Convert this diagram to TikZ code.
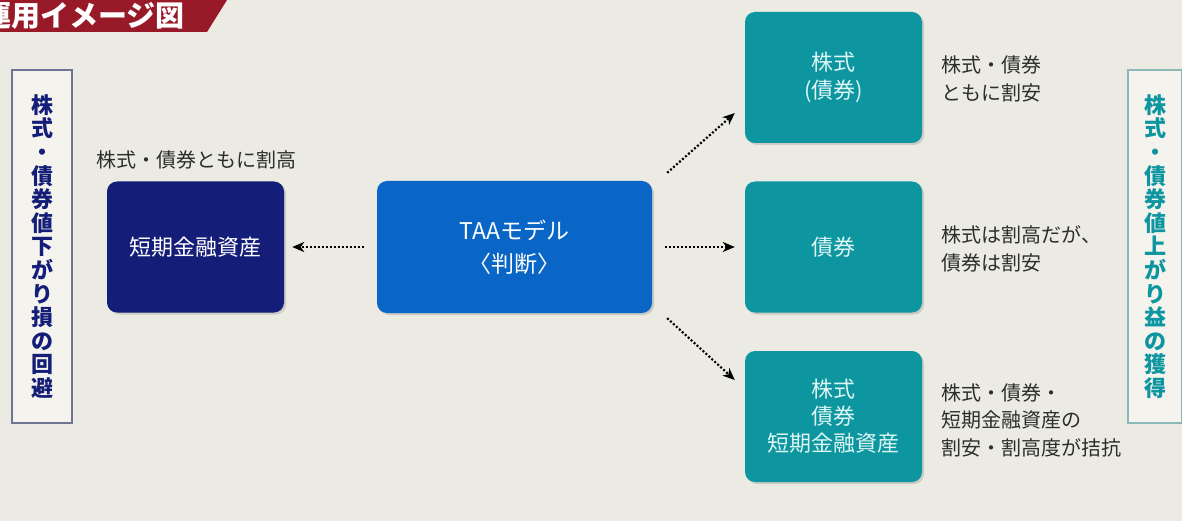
\documentclass[tikz,border=0pt]{standalone}
\usepackage{fontspec}
\setmainfont{Noto Sans CJK JP}
\usetikzlibrary{arrows.meta,shadows}
\definecolor{haikei}{RGB}{236,235,227}
\definecolor{obi}{RGB}{152,26,40}
\definecolor{kon}{RGB}{20,30,120}
\definecolor{ao}{RGB}{10,102,198}
\definecolor{midori}{RGB}{14,150,160}
\definecolor{usumidori}{RGB}{220,246,244}
\definecolor{moji}{RGB}{45,45,45}
\definecolor{hidari}{RGB}{110,116,148}
\definecolor{migi}{RGB}{140,184,184}
\definecolor{yoko}{RGB}{244,243,237}
\begin{document}
\begin{tikzpicture}[x=1pt,y=-1pt,
	box/.style={rounded corners=10pt, minimum width=177pt, minimum height=131pt, inner sep=0pt, align=center, font=\fontsize{22}{28}\selectfont, drop shadow={shadow xshift=2pt,shadow yshift=-2pt,opacity=0.3}},
	note/.style={anchor=west, align=left, text=moji, font=\fontsize{20}{27.5}\selectfont},
	side/.style={fill=yoko, line width=1.2pt, minimum height=353pt, inner sep=0pt, align=center, font=\fontsize{22}{23.6}\selectfont\bfseries},
	arr/.style={-{Stealth[length=12pt,width=10pt,inset=3.5pt]}, line width=2.2pt, dash pattern=on 2pt off 2pt}]

	\useasboundingbox (0,0) rectangle (1182,521);
	\clip (0,0) rectangle (1182,521);
	\fill[haikei] (0,0) rectangle (1182,521);

	% title
	\fill[obi] (-5,0) -- (227,0) -- (207,32) -- (-5,32) -- cycle;
	\node[anchor=east, text=white, inner sep=0pt, font=\fontsize{29}{29}\selectfont\bfseries] (title) at (185,16) {運用イメージ図};

	% side boxes
	\node[side, draw=hidari, text=kon, minimum width=60pt] (avoid) at (42,246.5) {株\\式\\・\\債\\券\\値\\下\\が\\り\\損\\の\\回\\避};
	\node[side, draw=migi, text=midori, minimum width=54pt] (gain) at (1155,246.5) {株\\式\\・\\債\\券\\値\\上\\が\\り\\益\\の\\獲\\得};

	% boxes
	\node[box, fill=kon, text=white] (tanki) at (195.5,247) {短期金融資産};
	\node[box, fill=ao, text=white, minimum width=275pt, minimum height=132pt, font=\fontsize{23}{33}\selectfont] (taa) at (514.5,247) {TAAモデル\\〈判断〉};
	\node[box, fill=midori, text=usumidori] (kabu) at (833.5,77.5) {株式\\(債券)};
	\node[box, fill=midori, text=usumidori] (saiken) at (833.5,247) {債券};
	\node[box, fill=midori, text=usumidori, font=\fontsize{22}{27}\selectfont] (zenbu) at (833.5,416.5) {株式\\債券\\短期金融資産};

	% notes
	\node[note, anchor=center] (takai) at (196,160) {株式・債券ともに割高};
	\node[note] (yasui) at (938,79) {株式・債券\\ともに割安};
	\node[note] (hanbun) at (938,249) {株式は割高だが、\\債券は割安};
	\node[note] (kikko) at (938,420) {株式・債券・\\短期金融資産の\\割安・割高度が拮抗};

	% arrows
	\draw[arr, shorten <=13pt, shorten >=8pt] (taa.west) -- (tanki.east);
	\draw[arr, shorten <=13pt, shorten >=10pt] (taa.east) -- (saiken.west);
	\draw[arr] ([shift={(15,-8)}]taa.north east) -- ([shift={(-10,35.5)}]kabu.west);
	\draw[arr] ([shift={(15,5)}]taa.south east) -- ([shift={(-10,-36.5)}]zenbu.west);

\end{tikzpicture}
\end{document}
